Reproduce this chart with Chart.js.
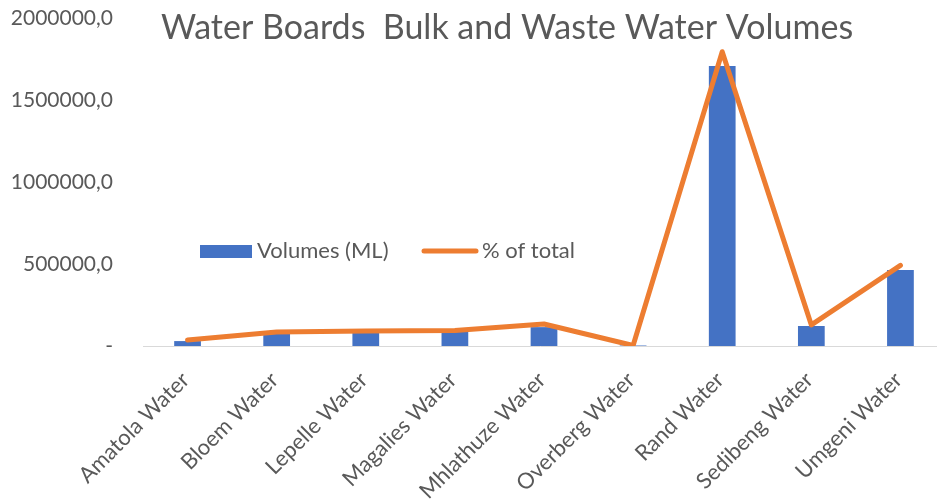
<!DOCTYPE html>
<html>
<head>
<meta charset="utf-8">
<script src="https://cdn.jsdelivr.net/npm/chart.js@4"></script>
<style>
  html, body { margin: 0; padding: 0; background: #fff; }
  #wrap { width: 937px; height: 499px; }
</style>
</head>
<body>
<div id="wrap"><canvas id="my-chart" width="937" height="499"></canvas></div>
<script>
const titleText = 'Water Boards  Bulk and Waste Water Volumes';
const categories = ['Amatola Water', 'Bloem Water', 'Lepelle Water', 'Magalies Water',
  'Mhlathuze Water', 'Overberg Water', 'Rand Water', 'Sedibeng Water', 'Umgeni Water'];
const volumes = [30000, 80000, 82000, 86000, 115000, 3000, 1707000, 122000, 463000];
const percentOfTotal = [1.3, 3.0, 3.2, 3.3, 4.7, 0.1, 62.8, 4.5, 17.2];
const yTicks = [0, 500000, 1000000, 1500000, 2000000];

const FONT = 'Lato';
const TEXT = '#595959';

// the Excel plot area runs a little past the right edge of the picture
const widenPlot = {
  id: 'widenPlot',
  afterLayout(chart) {
    const right = 945;
    const x = chart.scales.x;
    x.right = right;
    x.width = right - x.left;
    x.configure();
    chart.chartArea.right = right;
    chart.chartArea.width = right - chart.chartArea.left;
  }
};

// title and legend drawn where Excel put them
const overlay = {
  id: 'overlay',
  afterDraw(chart) {
    const ctx = chart.ctx;
    ctx.save();
    ctx.fillStyle = TEXT;
    ctx.font = `34px ${FONT}`;
    ctx.textAlign = 'center';
    ctx.textBaseline = 'middle';
    ctx.fillText(titleText, 507, 28);

    const bars = chart.data.datasets.find((d) => d.type !== 'line');
    const line = chart.data.datasets.find((d) => d.type === 'line');
    const y = 251;
    ctx.font = `22px ${FONT}`;
    ctx.textAlign = 'left';
    ctx.fillStyle = bars.backgroundColor;
    ctx.fillRect(200, y - 6, 52, 13);
    ctx.fillStyle = TEXT;
    ctx.fillText(bars.label, 257, y);

    ctx.strokeStyle = line.borderColor;
    ctx.lineWidth = 5;
    ctx.lineCap = 'round';
    ctx.beginPath();
    ctx.moveTo(424, y);
    ctx.lineTo(476, y);
    ctx.stroke();
    ctx.fillText(line.label, 482, y);
    ctx.restore();
  }
};

const ctx = document.getElementById('my-chart').getContext('2d');
const myChart = new Chart(ctx, {
  type: 'bar',
  data: {
    labels: categories,
    datasets: [
      {
        type: 'line',
        label: '% of total',
        data: percentOfTotal,
        yAxisID: 'y2',
        borderColor: '#ED7D31',
        backgroundColor: '#ED7D31',
        borderWidth: 5,
        pointRadius: 0,
        tension: 0,
        borderCapStyle: 'round',
        borderJoinStyle: 'round',
        order: 0,
      },
      {
        type: 'bar',
        label: 'Volumes (ML)',
        data: volumes,
        yAxisID: 'y',
        backgroundColor: '#4472C4',
        categoryPercentage: 1,
        barPercentage: 0.3,
        order: 1,
      },
    ],
  },
  options: {
    responsive: false,
    animation: false,
    layout: { padding: { top: 18, left: 0, right: 0, bottom: 0 } },
    plugins: {
      legend: { display: false },
      title: { display: false },
      tooltip: { enabled: false },
    },
    scales: {
      x: {
        grid: { display: false, drawTicks: false },
        border: { color: '#d9d9d9', width: 1 },
        ticks: {
          color: TEXT,
          font: { family: FONT, size: 22 },
          maxRotation: 45,
          minRotation: 45,
          autoSkip: false,
          padding: 21,
          labelOffset: -2,
        },
        afterFit(scale) {
          scale.height = 499 - 346;
          scale.paddingLeft = 0;
          scale.paddingRight = 0;
        },
      },
      y: {
        min: 0,
        max: 2000000,
        afterBuildTicks(scale) {
          scale.ticks = yTicks.map((v) => ({ value: v }));
        },
        grid: { display: false, drawTicks: false },
        border: { display: false },
        ticks: {
          color: TEXT,
          font: { family: FONT, size: 21 },
          padding: 30,
          callback: (v) => (v === 0 ? '-' : v.toFixed(1).replace('.', ',')),
        },
        afterFit(scale) {
          scale.width = 143;
          scale.paddingTop = 0;
          scale.paddingBottom = 0;
        },
      },
      y2: {
        display: false,
        position: 'right',
        min: 0,
        max: 70,
      },
    },
  },
  plugins: [widenPlot, overlay],
});
</script>
</body>
</html>
